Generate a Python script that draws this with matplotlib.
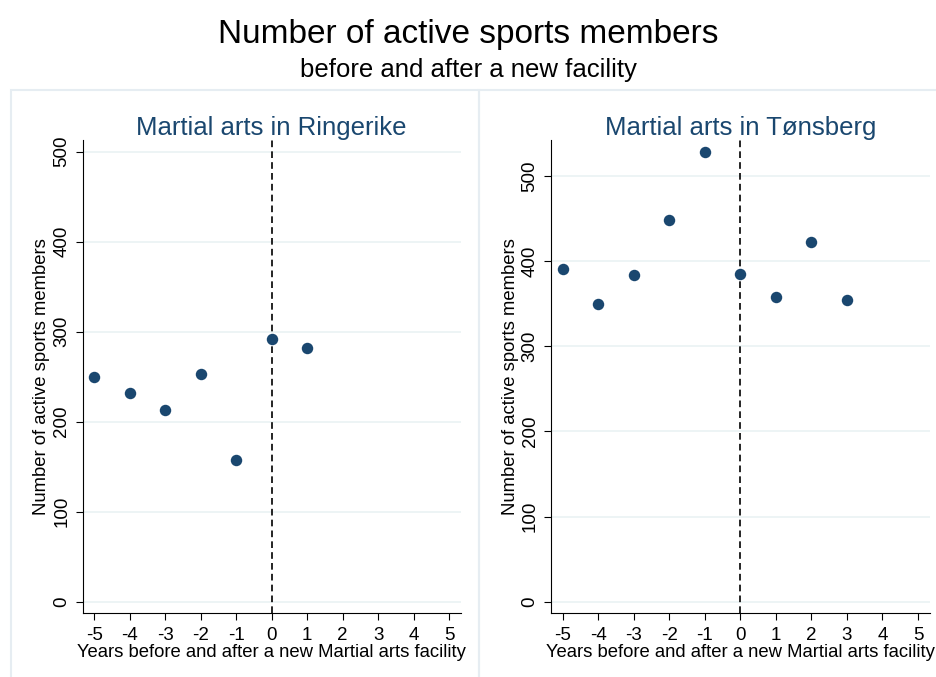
import matplotlib
matplotlib.use("Agg")
import matplotlib.pyplot as plt
from matplotlib.patches import Rectangle

plt.rcParams['font.family'] = ['Liberation Sans', 'DejaVu Sans']
plt.rcParams['axes.unicode_minus'] = False

# Data
years_ringerike = [-5, -4, -3, -2, -1, 0, 1]
members_ringerike = [250, 232, 213, 253, 158, 292, 282]

years_tonsberg = [-5, -4, -3, -2, -1, 0, 1, 2, 3]
members_tonsberg = [390, 350, 383, 448, 528, 385, 358, 422, 354]

x_ticks = [-5, -4, -3, -2, -1, 0, 1, 2, 3, 4, 5]
y_ticks = [0, 100, 200, 300, 400, 500]

navy = '#1a476f'
grid_col = '#eaf2f3'
frame_col = '#e6edf2'

W, H = 937, 677
fig = plt.figure(figsize=(W / 100, H / 100), dpi=100)

# light panel frames like Stata's combined graph
for x0, x1 in [(11, 479), (479, 945)]:
    fig.patches.append(Rectangle((x0 / W, -0.1), (x1 - x0) / W, (H - 90) / H + 0.1,
                                 transform=fig.transFigure, fill=False,
                                 edgecolor=frame_col, linewidth=1.5))

panels = [
    ('Martial arts in Ringerike', years_ringerike, members_ringerike,
     [82.7, 140, 460.7, 612.7], (-12.2, 513)),
    ('Martial arts in Tønsberg', years_tonsberg, members_tonsberg,
     [551, 140, 929.7, 613], (-13.2, 542)),
]

for title, xs, ys, (l, t, r, b), ylim in panels:
    ax = fig.add_axes([l / W, (H - b) / H, (r - l) / W, (b - t) / H])
    for y in y_ticks:
        ax.axhline(y, color=grid_col, linewidth=1.2, zorder=0)
    ax.axvline(0, color='black', linestyle=(0, (4, 2.5)), linewidth=1.2, zorder=1)
    ax.scatter(xs, ys, s=68, color=navy, zorder=3, linewidths=0)
    ax.set_xlim(-5.33, 5.33)
    ax.set_ylim(*ylim)
    ax.set_xticks(x_ticks)
    ax.set_yticks(y_ticks)
    ax.tick_params(axis='both', direction='out', length=5, width=0.8, labelsize=13.5)
    ax.tick_params(axis='x', pad=5)
    ax.tick_params(axis='y', pad=4)
    for lab in ax.get_yticklabels():
        lab.set_rotation(90)
        lab.set_va('center')
    for side in ['top', 'right']:
        ax.spines[side].set_visible(False)
    for side in ['left', 'bottom']:
        ax.spines[side].set_linewidth(0.8)
    ax.set_title(title, fontsize=18.5, color=navy, pad=3)
    ax.set_xlabel('Years before and after a new Martial arts facility', fontsize=13.3, labelpad=0)
    ax.set_ylabel('Number of active sports members', fontsize=13.3, labelpad=2)

fig.text(0.5, (H - 43) / H, 'Number of active sports members', ha='center',
         va='baseline', fontsize=24)
fig.text(0.5, (H - 77) / H, 'before and after a new facility', ha='center',
         va='baseline', fontsize=18.5)

fig.savefig('out.png', dpi=100)
